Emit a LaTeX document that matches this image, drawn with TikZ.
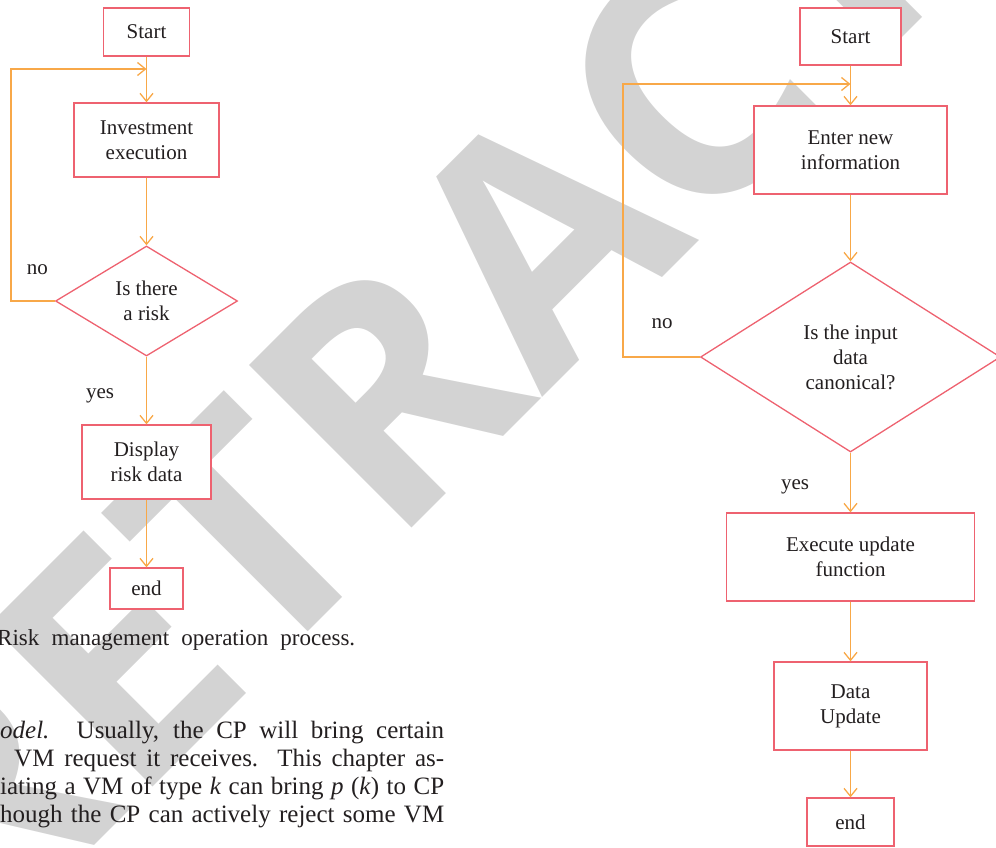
\documentclass[tikz,border=0pt]{standalone}
\usepackage{fontspec}
\setmainfont{Liberation Serif}
\newfontfamily\stampfont{Open Sans}
\usetikzlibrary{arrows.meta,shapes.geometric,positioning}

\definecolor{boxred}{RGB}{238,98,112}
\definecolor{flow}{RGB}{248,168,72}
\definecolor{ink}{RGB}{35,31,32}
\definecolor{stampgray}{RGB}{211,211,211}

\begin{document}
\begin{tikzpicture}[
  x=1pt, y=-1pt,
  box/.style={draw=boxred, line width=1.3pt, fill=white, text=ink, align=center,
              inner sep=0pt, font=\fontsize{21}{25}\selectfont},
  query/.style={box, diamond},
  arr/.style={draw=flow, line width=1.3pt, -{Straight Barb[length=8pt,width=13pt]}},
  tag/.style={text=ink, anchor=base, inner sep=0pt, font=\fontsize{21}{25}\selectfont},
  body/.style={text=ink, anchor=base west, inner sep=0pt, font=\fontsize{25}{28}\selectfont},
  stamp/.style={text=stampgray, rotate=45, anchor=base west, inner sep=0pt,
                font=\stampfont\bfseries\fontsize{322}{322}\selectfont},
]
\useasboundingbox (0,0) rectangle (996,848);
\clip (0,0) rectangle (996,848);

% ---- watermark ----
\node[stamp] (wm) at (-18,958) {RETRACTED};

% ---- left chart: risk management ----
\node[box, minimum width=86pt,  minimum height=48pt] (startL)  at (146.5,32)  {Start};
\node[box, minimum width=145pt, minimum height=74pt] (invest)  at (146.5,140) {Investment\\execution};
\node[query, minimum width=182pt, minimum height=110pt] (riskq) at (146.5,301) {Is there\\a risk};
\node[box, minimum width=129pt, minimum height=74pt] (display) at (146.5,462) {Display\\risk data};
\node[box, minimum width=73pt,  minimum height=41pt] (endL)    at (146.5,588.5) {end};
\coordinate (loopL) at (11,69);

\draw[arr] (startL) -- (invest);
\draw[arr] (invest) -- (riskq);
\draw[arr] (riskq) -- (display);
\draw[arr] (display) -- (endL);
\draw[arr] (riskq.west) -| (loopL) -- (startL.south |- loopL);

\node[tag] (noL)  at (37.5,274) {no};
\node[tag] (yesL) at (100,398)  {yes};

% ---- caption and running text ----
\node[body, font=\fontsize{23}{27}\selectfont] (caption) at (-3,645)
  {\makebox[358pt][s]{Risk management operation process.}};
\node[body] (line1) at (0,738)  {\makebox[444pt][s]{\textit{odel.} Usually, the CP will bring certain}};
\node[body] (line2) at (14,766) {\makebox[430pt][s]{VM request it receives. This chapter as-}};
\node[body] (line3) at (0,794)  {\makebox[444pt][s]{iating a VM of type \textit{k} can bring \textit{p} (\textit{k}) to CP}};
\node[body] (line4) at (0,822)  {\makebox[444pt][s]{hough the CP can actively reject some VM}};

% ---- right chart: data update ----
\node[box, minimum width=101pt, minimum height=57pt] (startR)  at (850.5,36.5) {Start};
\node[box, minimum width=193pt, minimum height=88pt] (enter)   at (850.5,150)  {Enter new\\information};
\node[query, minimum width=300pt, minimum height=190pt] (canon) at (850.5,357) {Is the input\\data\\canonical?};
\node[box, minimum width=248pt, minimum height=88pt] (execute) at (850.5,557)  {Execute update\\function};
\node[box, minimum width=153pt, minimum height=88pt] (update)  at (850.5,706)  {Data\\Update};
\node[box, minimum width=87pt,  minimum height=48pt] (endR)    at (850.5,822)  {end};
\coordinate (loopR) at (623,84);

\draw[arr] (startR) -- (enter);
\draw[arr] (enter) -- (canon);
\draw[arr] (canon) -- (execute);
\draw[arr] (execute) -- (update);
\draw[arr] (update) -- (endR);
\draw[arr] (canon.west) -| (loopR) -- (startR.south |- loopR);

\node[tag] (noR)  at (662,328) {no};
\node[tag] (yesR) at (795,489) {yes};
\end{tikzpicture}
\end{document}
